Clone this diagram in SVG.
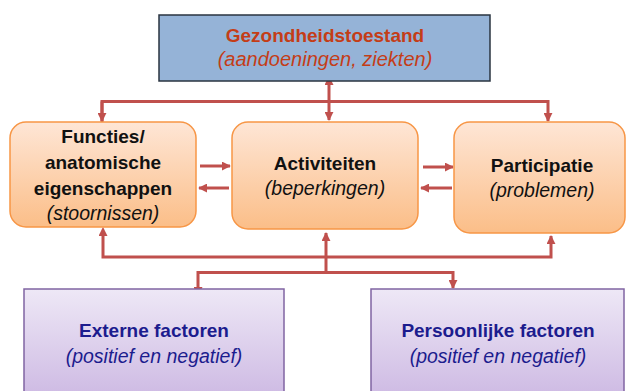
<svg xmlns="http://www.w3.org/2000/svg" width="627" height="391" viewBox="0 0 627 391">
<defs>
<linearGradient id="gOrange" x1="0" y1="0" x2="0" y2="1">
<stop offset="0" stop-color="#FEE6D6"/>
<stop offset="1" stop-color="#FBBE88"/>
</linearGradient>
<linearGradient id="gPurple" x1="0" y1="0" x2="0" y2="1">
<stop offset="0" stop-color="#EEE8F6"/>
<stop offset="1" stop-color="#CDB9E3"/>
</linearGradient>
<marker id="ah" viewBox="0 0 10 10" refX="9" refY="5" markerWidth="9" markerHeight="9" markerUnits="userSpaceOnUse" orient="auto">
<path d="M0,0 L10,5 L0,10 z" fill="#C0504D"/>
</marker>
<marker id="ahs" viewBox="0 0 10 10" refX="1" refY="5" markerWidth="9" markerHeight="9" markerUnits="userSpaceOnUse" orient="auto-start-reverse">
<path d="M0,0 L10,5 L0,10 z" fill="#C0504D"/>
</marker>
</defs>
<style>
.ob { fill: url(#gOrange); stroke: #F79646; stroke-width: 1.5; }
.pb { fill: url(#gPurple); stroke: #8064A2; stroke-width: 1.5; }
.t { font-family: "Liberation Sans", Arial, sans-serif; text-anchor: middle; }
.b { font-weight: bold; font-size: 19px; }
.i { font-style: italic; font-size: 19.5px; }
.k { fill: #111; }
.r { fill: #C43D17; }
.n { fill: #1C1C8E; }
.c { fill: none; stroke: #C0504D; stroke-width: 3; }
</style>

<g id="connectors">
<polyline class="c" points="102,122 102,101.5 548,101.5 548,121" marker-end="url(#ah)"/>
<line class="c" x1="102" y1="101.5" x2="102" y2="121" marker-end="url(#ah)"/>
<line class="c" x1="329" y1="84" x2="329" y2="120" marker-start="url(#ahs)" marker-end="url(#ah)"/>
<polyline class="c" points="103,235 103,257 551,257 551,236" marker-start="url(#ahs)" marker-end="url(#ah)"/>
<line class="c" x1="326" y1="272.5" x2="326" y2="233" marker-end="url(#ah)"/>
<polyline class="c" points="198,288 198,272.5 453,272.5 453,288" marker-start="url(#ahs)" marker-end="url(#ah)"/>
<line class="c" x1="200" y1="166" x2="230" y2="166" marker-end="url(#ah)"/>
<line class="c" x1="229" y1="188" x2="199" y2="188" marker-end="url(#ah)"/>
<line class="c" x1="423" y1="167" x2="453" y2="167" marker-end="url(#ah)"/>
<line class="c" x1="452" y1="188" x2="421" y2="188" marker-end="url(#ah)"/>
</g>

<g id="gezondheidstoestand">
<rect x="159" y="15" width="331" height="66" fill="#95B3D7" stroke="#2A3440" stroke-width="1.5"/>
<text class="t b r" x="325" y="42">Gezondheidstoestand</text>
<text class="t i r" x="325" y="66" style="font-size:20px">(aandoeningen, ziekten)</text>
</g>

<g id="functies">
<rect class="ob" x="10" y="122" width="186" height="105" rx="16"/>
<text class="t b k" x="103" y="143">Functies/</text>
<text class="t b k" x="103" y="169">anatomische</text>
<text class="t b k" x="103" y="195">eigenschappen</text>
<text class="t i k" x="103" y="220">(stoornissen)</text>
</g>

<g id="activiteiten">
<rect class="ob" x="232" y="122" width="186" height="107" rx="16"/>
<text class="t b k" x="325" y="170">Activiteiten</text>
<text class="t i k" x="325" y="195">(beperkingen)</text>
</g>

<g id="participatie">
<rect class="ob" x="454" y="122" width="171" height="111" rx="16"/>
<text class="t b k" x="542" y="172">Participatie</text>
<text class="t i k" x="542" y="197">(problemen)</text>
</g>

<g id="externe">
<rect class="pb" x="24" y="289" width="260" height="110"/>
<text class="t b n" x="154" y="337">Externe factoren</text>
<text class="t i n" x="154" y="363">(positief en negatief)</text>
</g>

<g id="persoonlijke">
<rect class="pb" x="371" y="289" width="253" height="110"/>
<text class="t b n" x="498" y="337">Persoonlijke factoren</text>
<text class="t i n" x="498" y="363">(positief en negatief)</text>
</g>
</svg>
